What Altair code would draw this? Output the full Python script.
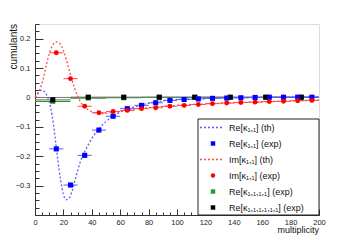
import altair as alt
import pandas as pd

# ---------------- data ----------------
th_x = [0, 2, 4, 5, 6, 8, 10, 12, 14, 16, 18, 20, 22, 24, 26, 28, 30, 32, 35, 40, 45,
        50, 55, 60, 70, 80, 90, 100, 120, 140, 160, 180, 200]
re_th = [0.0, 0.015, 0.024, 0.025, 0.022, 0.01, -0.015, -0.06, -0.13, -0.21, -0.28, -0.33,
         -0.348, -0.343, -0.32, -0.285, -0.25, -0.218, -0.185, -0.14, -0.106, -0.082, -0.064,
         -0.05, -0.032, -0.02, -0.012, -0.007, -0.003, -0.001, 0.0, 0.001, 0.001]
im_th = [0.0, 0.012, 0.035, 0.05, 0.068, 0.11, 0.148, 0.174, 0.187, 0.189, 0.18, 0.16,
         0.13, 0.095, 0.06, 0.03, 0.005, -0.015, -0.033, -0.048, -0.055, -0.054, -0.051,
         -0.047, -0.04, -0.035, -0.031, -0.027, -0.022, -0.018, -0.015, -0.012, -0.009]

exp_x = [15, 25, 35, 45, 55, 65, 75, 85, 95, 105, 115, 125, 135, 145, 155, 165, 175, 185, 195]
re_exp = [-0.175, -0.298, -0.197, -0.111, -0.064, -0.038, -0.027, -0.018, -0.01, -0.007,
          -0.005, -0.003, -0.002, -0.001, 0.0, 0.001, 0.001, 0.001, 0.001]
im_exp = [0.152, 0.064, -0.03, -0.052, -0.048, -0.044, -0.038, -0.035, -0.03, -0.027,
          -0.024, -0.021, -0.019, -0.017, -0.016, -0.014, -0.013, -0.011, -0.01]
exp_xerr = 5

bin_x = [12.5, 37.5, 62.5, 87.5, 112.5, 137.5, 162.5, 187.5]
k4_exp = [-0.013, -0.002, -0.001, 0.0, 0.0, 0.0, 0.0, 0.0]
k6_exp = [-0.008, 0.001, 0.001, 0.001, 0.001, 0.001, 0.001, 0.001]
bin_xerr = 12.5

legend_labels = ["Re[κ₁,₁] (th)", "Re[κ₁,₁] (exp)", "Im[κ₁,₁] (th)", "Im[κ₁,₁] (exp)",
                 "Re[κ₁,₁,₁,₁] (exp)", "Re[κ₁,₁,₁,₁,₁,₁] (exp)"]
x_title = "multiplicity"
y_title = "cumulants"

x_ticks = [0, 20, 40, 60, 80, 100, 120, 140, 160, 180, 200]
y_ticks = [-0.3, -0.2, -0.1, 0, 0.1, 0.2]
x_minor = list(range(0, 201, 5))
y_minor = [round(-0.4 + 0.025 * i, 3) for i in range(27)]

# ---------------- styles ----------------
W, H = 284, 191
FONT = "Liberation Sans"
BLUE, RED, GREEN, BLACK = "#0000ff", "#ff0000", "#2e9a2e", "#000000"
BLUE_L, RED_L = "#5a5aff", "#ff4a4a"

xs = alt.Scale(domain=[0, 200], nice=False, zero=False)
ys = alt.Scale(domain=[-0.4, 0.25], nice=False, zero=False)

th_df = pd.DataFrame({"x": th_x, "re": re_th, "im": im_th})
exp_df = pd.DataFrame({"x": exp_x, "re": re_exp, "im": im_exp})
exp_df["xlo"] = exp_df["x"] - exp_xerr
exp_df["xhi"] = exp_df["x"] + exp_xerr
bin_df = pd.DataFrame({"x": bin_x, "k4": k4_exp, "k6": k6_exp})
bin_df["xlo"] = bin_df["x"] - bin_xerr
bin_df["xhi"] = bin_df["x"] + bin_xerr


def X(f="x"):
    return alt.X(f"{f}:Q", scale=xs, axis=None)


def Y(f):
    return alt.Y(f"{f}:Q", scale=ys, axis=None)


zero = alt.Chart(pd.DataFrame({"z": [0.0]})).mark_rule(color="#777", strokeWidth=1).encode(y=Y("z"))

k4_bar = alt.Chart(bin_df).mark_rule(color=GREEN, strokeWidth=1.2).encode(x=X("xlo"), x2="xhi", y=Y("k4"))
k4_pt = alt.Chart(bin_df).mark_square(color=GREEN, size=26, opacity=1).encode(x=X(), y=Y("k4"))
k6_bar = alt.Chart(bin_df).mark_rule(color="#777", strokeWidth=1).encode(x=X("xlo"), x2="xhi", y=Y("k6"))
k6_pt = alt.Chart(bin_df).mark_square(color=BLACK, size=26, opacity=1).encode(x=X(), y=Y("k6"))

re_line = alt.Chart(th_df).mark_line(color=BLUE_L, strokeDash=[2, 2], strokeWidth=1.3,
                                     interpolate="monotone").encode(x=X(), y=Y("re"))
im_line = alt.Chart(th_df).mark_line(color=RED_L, strokeDash=[2, 2], strokeWidth=1.3,
                                     interpolate="monotone").encode(x=X(), y=Y("im"))

re_bar = alt.Chart(exp_df).mark_rule(color=BLUE_L, strokeWidth=1).encode(x=X("xlo"), x2="xhi", y=Y("re"))
re_pt = alt.Chart(exp_df).mark_square(color=BLUE, size=26, opacity=1).encode(x=X(), y=Y("re"))
im_bar = alt.Chart(exp_df).mark_rule(color=RED_L, strokeWidth=1).encode(x=X("xlo"), x2="xhi", y=Y("im"))
im_pt = alt.Chart(exp_df).mark_circle(color=RED, size=24, opacity=1).encode(x=X(), y=Y("im"))

# ---------------- axes (ROOT style: ticks inside) ----------------
lab_font = dict(labelFont=FONT, labelFontSize=7.5, labelColor="#222")
ax_base = alt.Chart(exp_df).mark_point(opacity=0).encode(
    x=alt.X("x:Q", scale=xs, axis=alt.Axis(
        values=x_ticks, format="d", ticks=False, tickSize=0, labelPadding=3, grid=False,
        domainColor="#333", domainWidth=1, title=None, labelFlush=False, **lab_font)),
    y=alt.Y("re:Q", scale=ys, axis=alt.Axis(
        values=y_ticks, format=".1~f", ticks=False, tickSize=0, labelPadding=5, grid=False,
        domainColor="#333", domainWidth=1, title=None, labelFlush=False, **lab_font)),
)
ax_major = alt.Chart(exp_df).mark_point(opacity=0).encode(
    x=alt.X("x:Q", scale=xs, axis=alt.Axis(
        orient="top", offset=-H, values=x_ticks, labels=False, domain=False, grid=False,
        tickSize=6, tickColor="#333", title=None)),
    y=alt.Y("re:Q", scale=ys, axis=alt.Axis(
        orient="right", offset=-W, values=y_ticks, labels=False, domain=False, grid=False,
        tickSize=8, tickColor="#333", title=None)),
)
ax_minor = alt.Chart(exp_df).mark_point(opacity=0).encode(
    x=alt.X("x:Q", scale=xs, axis=alt.Axis(
        orient="top", offset=-H, values=x_minor, labels=False, domain=False, grid=False,
        tickSize=3, tickColor="#333", title=None)),
    y=alt.Y("re:Q", scale=ys, axis=alt.Axis(
        orient="right", offset=-W, values=y_minor, labels=False, domain=False, grid=False,
        tickSize=4, tickColor="#333", title=None)),
)

# axis titles as text marks (ROOT style placement)
xt = alt.Chart(pd.DataFrame({"t": [x_title]})).mark_text(
    align="right", baseline="alphabetic", font=FONT, fontSize=9, color="#111").encode(
    x=alt.value(W), y=alt.value(H + 18), text="t:N")
yt = alt.Chart(pd.DataFrame({"t": [y_title]})).mark_text(
    align="right", baseline="middle", angle=270, font=FONT, fontSize=10, color="#111").encode(
    x=alt.value(-21), y=alt.value(0), text="t:N")

# ---------------- legend box ----------------
one = pd.DataFrame({"a": [0]})
LX0, LX1, LY0, LY1 = 163, W, 95, H
box = alt.Chart(one).mark_rect(fill="white", stroke="#222", strokeWidth=1).encode(
    x=alt.value(LX0), x2=alt.value(LX1), y=alt.value(LY0), y2=alt.value(LY1))

leg_layers = [box]
kinds = [("line", BLUE_L), ("square", BLUE), ("line", RED_L), ("circle", RED),
         ("square", GREEN), ("square", BLACK)]
for i, (lab, (kind, col)) in enumerate(zip(legend_labels, kinds)):
    yy = 103.5 + 16 * i
    if kind == "line":
        leg_layers.append(alt.Chart(one).mark_rule(color=col, strokeDash=[2, 2], strokeWidth=1.3).encode(
            x=alt.value(LX0 + 2), x2=alt.value(LX0 + 26), y=alt.value(yy)))
    elif kind == "square":
        leg_layers.append(alt.Chart(one).mark_square(color=col, size=20, opacity=1).encode(
            x=alt.value(LX0 + 15), y=alt.value(yy)))
    else:
        leg_layers.append(alt.Chart(one).mark_circle(color=col, size=20, opacity=1).encode(
            x=alt.value(LX0 + 15), y=alt.value(yy)))
    leg_layers.append(alt.Chart(pd.DataFrame({"t": [lab]})).mark_text(
        align="left", baseline="middle", font=FONT, fontSize=9, color="#111").encode(
        x=alt.value(LX0 + 31), y=alt.value(yy), text="t:N"))

chart = alt.layer(
    zero, k4_bar, k6_bar, re_line, im_line, re_bar, im_bar, k4_pt, k6_pt, re_pt, im_pt,
    ax_base, ax_major, ax_minor, xt, yt, *leg_layers
).resolve_axis(x="independent", y="independent").properties(
    width=W, height=H,
    autosize=alt.AutoSizeParams(type="none"),
    padding={"left": 27, "top": 16, "right": 28, "bottom": 24},
).configure_view(stroke="#333", strokeWidth=1).configure(background="white")

chart.save("out.html", embed_options={"renderer": "svg", "actions": False})
